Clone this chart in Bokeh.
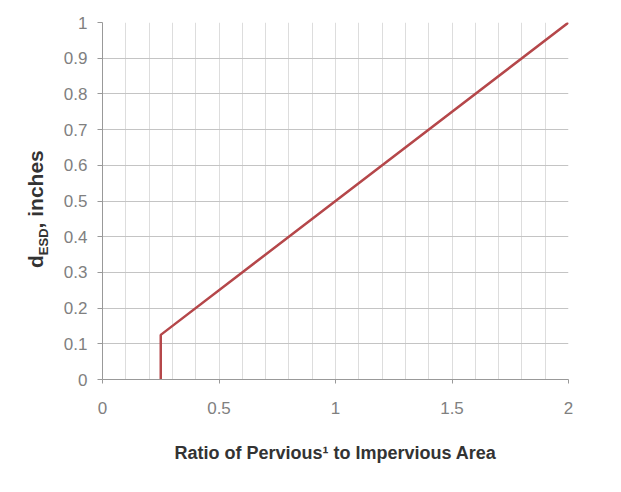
from bokeh.plotting import figure
from bokeh.models import Range1d, FixedTicker, Div
from bokeh.layouts import row
from bokeh.embed import file_html
from bokeh.resources import INLINE

# data
ratio = [0.25, 0.25, 2.0]
depth = [0.0, 0.125, 1.0]
x_ticks = [0, 0.5, 1, 1.5, 2]
y_ticks = [0, 0.1, 0.2, 0.3, 0.4, 0.5, 0.6, 0.7, 0.8, 0.9, 1.0]
x_minor = [i / 10 for i in range(0, 21)]
x_label = "Ratio of Pervious\u00b9 to Impervious Area"
y_label_main, y_label_sub, y_label_unit = "d", "ESD", ", inches"

DW = 60
W, H = 611 - DW, 486
p = figure(width=W, height=H, output_backend="svg", toolbar_location=None,
           x_range=Range1d(0, 2), y_range=Range1d(0, 1),
           min_border_left=98 - DW, min_border_right=43, min_border_top=22, min_border_bottom=107)
p.outline_line_color = None
p.background_fill_color = "white"
p.border_fill_color = "white"

FONT = "Liberation Sans"
p.xaxis.ticker = FixedTicker(ticks=x_ticks, minor_ticks=x_minor)
p.yaxis.ticker = FixedTicker(ticks=y_ticks)
p.xaxis.major_label_overrides = {0: "0", 0.5: "0.5", 1: "1", 1.5: "1.5", 2: "2"}
p.yaxis.major_label_overrides = {0: "0", 1: "1"}
for ax in (p.xaxis, p.yaxis):
    ax.axis_line_color = "#999999"
    ax.major_tick_line_color = "#999999"
    ax.minor_tick_line_color = None
    ax.major_label_text_font = FONT
    ax.major_label_text_font_size = "17px"
    ax.major_label_text_color = "#808080"
p.xaxis.major_tick_in = 0
p.xaxis.major_tick_out = 4
p.yaxis.major_tick_in = 0
p.yaxis.major_tick_out = 5
p.xaxis.major_label_standoff = 18
p.yaxis.major_label_standoff = 10
p.xaxis.axis_label = x_label
p.xaxis.axis_label_text_font = FONT
p.xaxis.axis_label_text_font_style = "bold"
p.xaxis.axis_label_text_font_size = "18px"
p.xaxis.axis_label_text_color = "#333333"
p.xaxis.axis_label_standoff = 26

p.xgrid.ticker = FixedTicker(ticks=x_minor)
p.xgrid.grid_line_color = "#dddddd"
p.ygrid.ticker = FixedTicker(ticks=y_ticks)
p.ygrid.grid_line_color = "#c4c4c4"

p.line(ratio, depth, line_color="#b5474a", line_width=2.5)

# rotated y-axis label with a real subscript
label_html = (
    '<div style="position:absolute; left:24px; top:268px; transform:rotate(-90deg); '
    'transform-origin:left top; white-space:nowrap; font-family:\'Liberation Sans\'; '
    'font-weight:bold; font-size:21px; line-height:24px; color:#333333;">'
    f'{y_label_main}<sub style="font-size:13px;">{y_label_sub}</sub>{y_label_unit}</div>'
)
div = Div(text=label_html, width=DW, height=H, margin=0, styles={"position": "relative"})

layout = row(div, p, spacing=0)
open("out.html", "w").write(file_html(layout, INLINE))
